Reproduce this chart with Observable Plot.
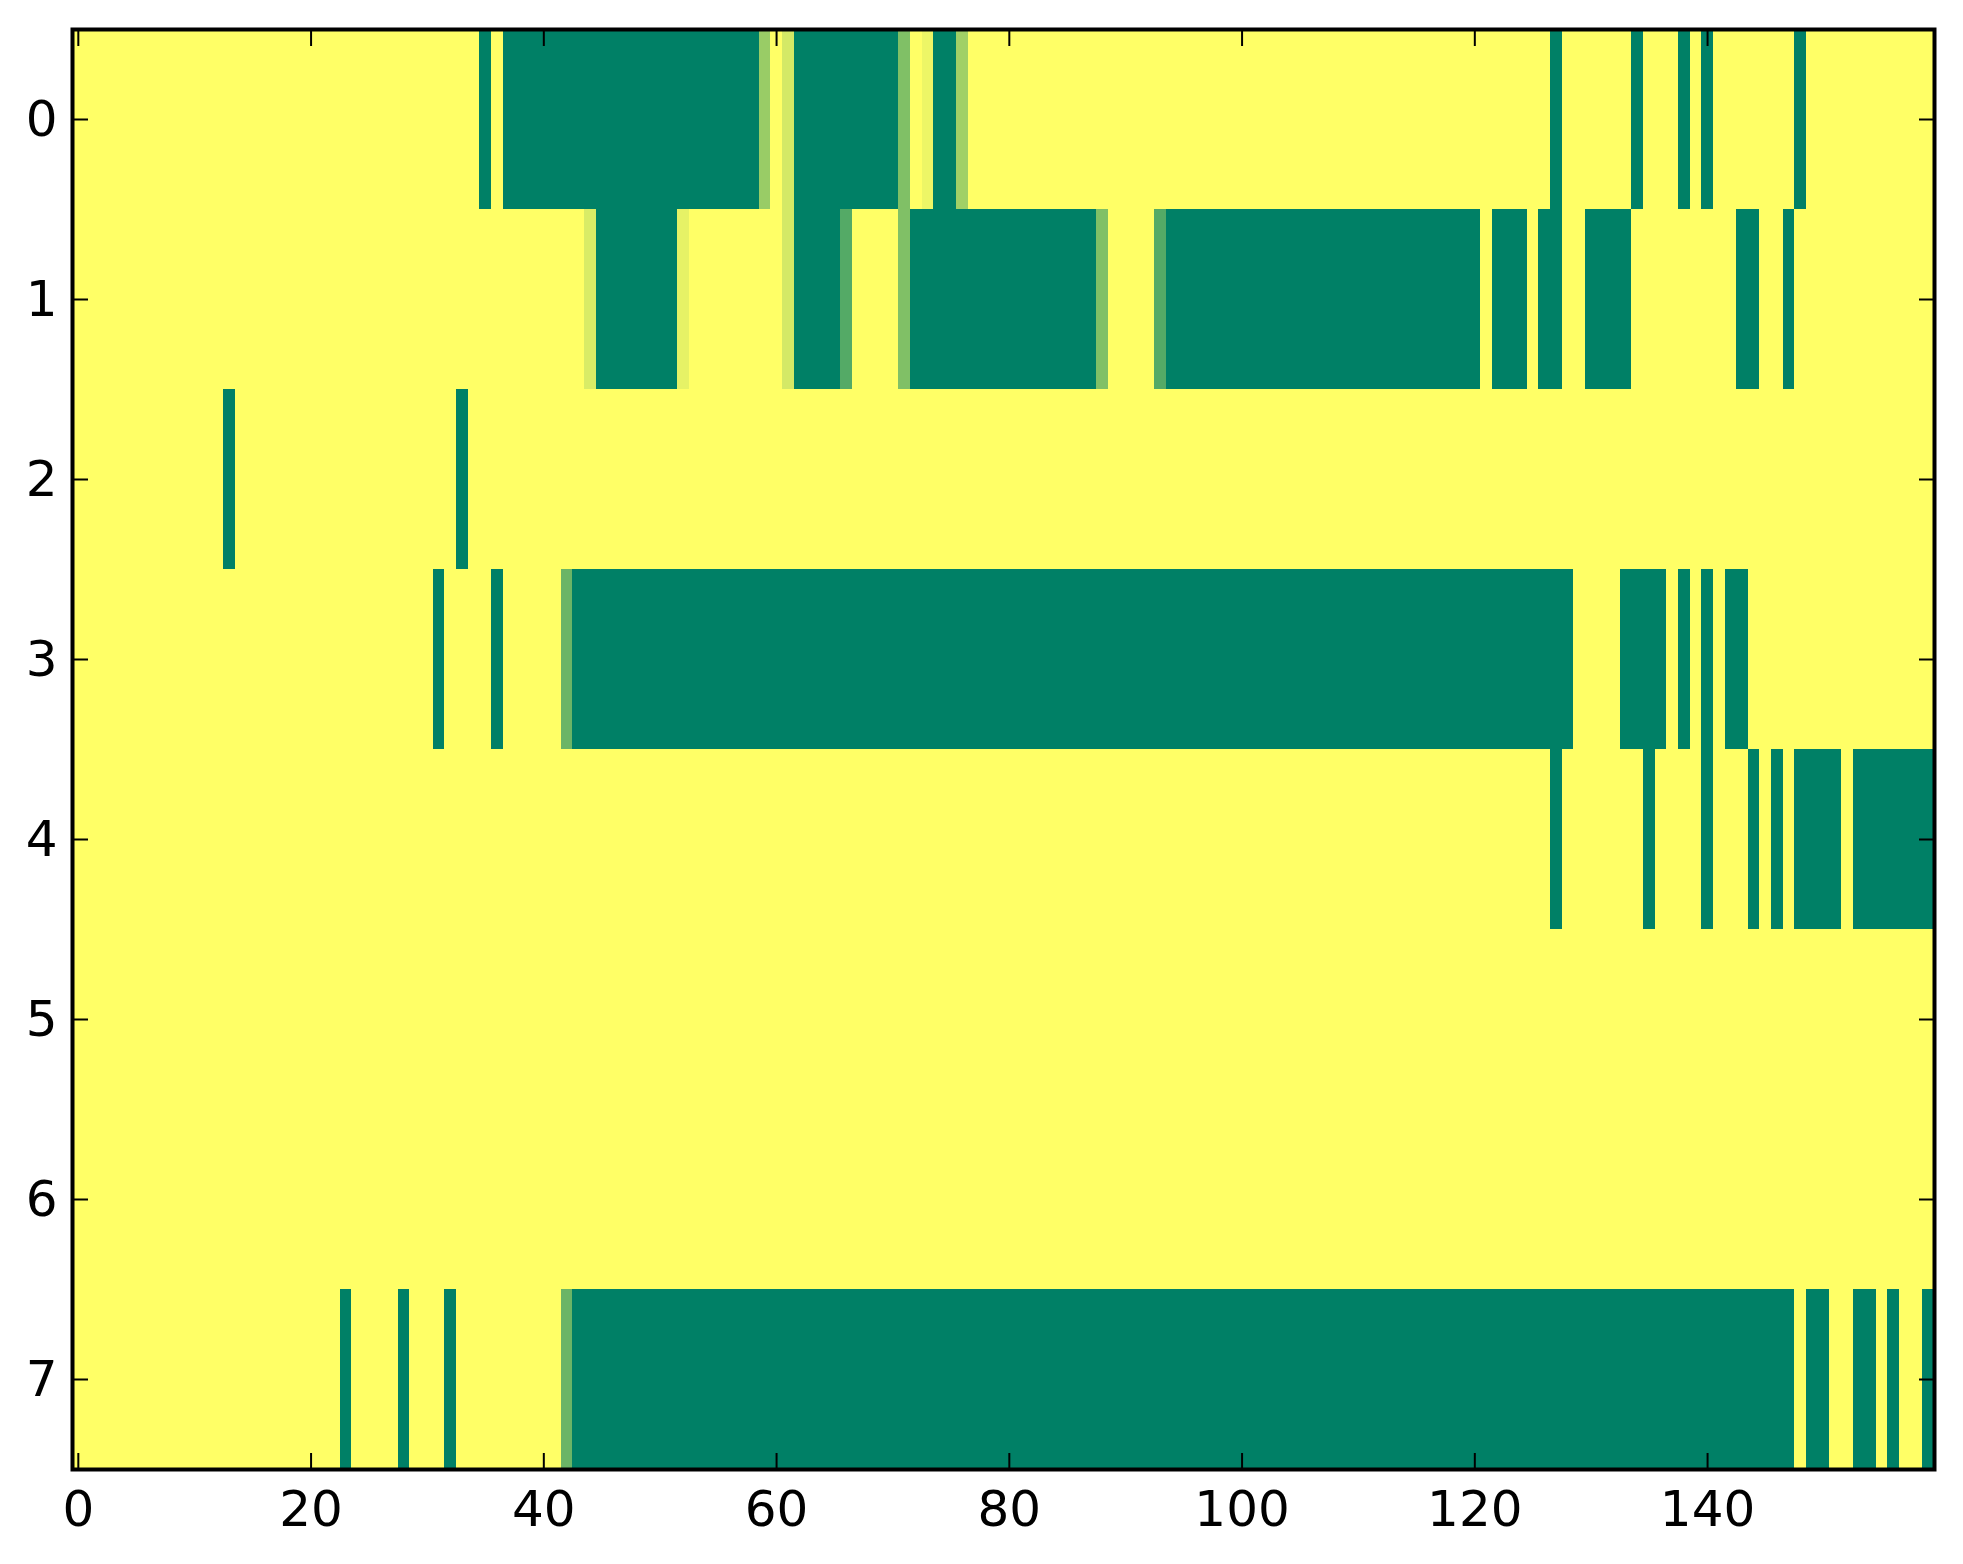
<!DOCTYPE html>
<html>
<head>
<meta charset="utf-8">
<script src="https://cdn.jsdelivr.net/npm/d3@7"></script>
<script src="https://cdn.jsdelivr.net/npm/@observablehq/plot@0.6"></script>
<style>
  body { margin: 0; background: #fff; }
</style>
</head>
<body>
<div id="chart"></div>
<script>
// one string per row, 10 columns per chunk (160 columns total)
// "." = 1 (yellow), "#" = 0 (green), letters = in-between values
const codes = {
  "#": 0, ".": 1,
  a: 0.33, b: 0.42, c: 0.5, d: 0.6, e: 0.63,
  f: 0.83, g: 0.85, h: 0.9, i: 0.93
};

const row0 = [
  "..........", "..........", "..........", ".....#.###",
  "##########", "#########d", ".f########", "#c.i##e...",
  "..........", "..........", "..........", "..........",
  ".......#..", "....#...#.", "#.......#.", ".........."
];
const row1 = [
  "..........", "..........", "..........", "..........",
  "....g#####", "##h.......", ".f####a...", ".c########",
  "########c.", "...a######", "##########", "##########",
  "#.###.##..", "####......", "...##..#..", ".........."
];
const row2 = [
  "..........", "...#......", "..........", "...#......",
  "..........", "..........", "..........", "..........",
  "..........", "..........", "..........", "..........",
  "..........", "..........", "..........", ".........."
];
const row3 = [
  "..........", "..........", "..........", ".#....#...",
  "..b#######", "##########", "##########", "##########",
  "##########", "##########", "##########", "##########",
  "#########.", "...####.#.", "#.##......", ".........."
];
const row4 = [
  "..........", "..........", "..........", "..........",
  "..........", "..........", "..........", "..........",
  "..........", "..........", "..........", "..........",
  ".......#..", ".....#....", "#...#.#.##", "##.#######"
];
const row5 = [
  "..........", "..........", "..........", "..........",
  "..........", "..........", "..........", "..........",
  "..........", "..........", "..........", "..........",
  "..........", "..........", "..........", ".........."
];
const row6 = [
  "..........", "..........", "..........", "..........",
  "..........", "..........", "..........", "..........",
  "..........", "..........", "..........", "..........",
  "..........", "..........", "..........", ".........."
];
const row7 = [
  "..........", "..........", "...#....#.", "..#.......",
  "..b#######", "##########", "##########", "##########",
  "##########", "##########", "##########", "##########",
  "##########", "##########", "########.#", "#..##.#..#"
];

const rows = [row0, row1, row2, row3, row4, row5, row6, row7];
const xTicks = [0, 20, 40, 60, 80, 100, 120, 140];
const yTicks = [0, 1, 2, 3, 4, 5, 6, 7];

const cells = [];
rows.forEach((chunks, r) => {
  chunks.join("").split("").forEach((ch, c) => {
    cells.push({row: r, col: c, value: codes[ch]});
  });
});

const W = 1963, H = 1564;
const axisFont = {fontSize: 50, fontFamily: "DejaVu Sans", fill: "black"};
const intFormat = (d) => String(d);

const chart = Plot.plot({
  width: W,
  height: H,
  marginLeft: 72,
  marginRight: 29,
  marginTop: 29,
  marginBottom: 95,
  style: {background: "white", fontFamily: "DejaVu Sans"},
  x: {domain: [-0.5, 159.5]},
  y: {domain: [7.5, -0.5]},
  color: {
    type: "linear",
    domain: [0, 1],
    range: ["#008066", "#ffff66"],
    interpolate: "rgb"
  },
  marks: [
    Plot.rect(cells, {
      x1: (d) => d.col - 0.5,
      x2: (d) => d.col + 0.5,
      y1: (d) => d.row - 0.5,
      y2: (d) => d.row + 0.5,
      fill: "value",
      shapeRendering: "crispEdges"
    }),
    Plot.axisX(xTicks, {anchor: "bottom", tickSize: -16, tickPadding: 37, strokeWidth: 2, tickFormat: intFormat, label: null, ...axisFont}),
    Plot.axisX(xTicks, {anchor: "top", tickSize: -16, strokeWidth: 2, tickFormat: () => "", label: null}),
    Plot.axisY(yTicks, {anchor: "left", tickSize: -16, tickPadding: 31, strokeWidth: 2, tickFormat: intFormat, label: null, ...axisFont}),
    Plot.axisY(yTicks, {anchor: "right", tickSize: -16, strokeWidth: 2, tickFormat: () => "", label: null}),
    Plot.frame({stroke: "black", strokeWidth: 4})
  ]
});

document.getElementById("chart").append(chart);
</script>
</body>
</html>
